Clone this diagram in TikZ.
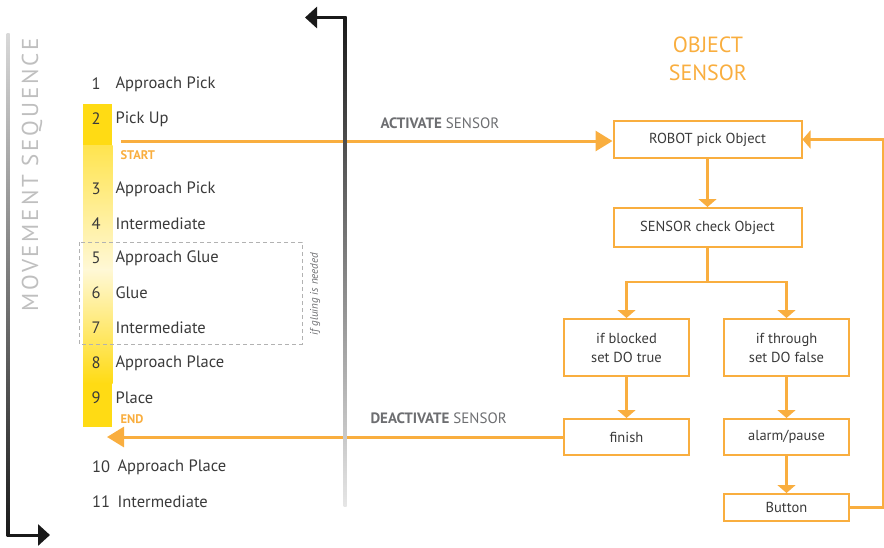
\documentclass[tikz,border=0pt]{standalone}
\usepackage{fontspec}
\setmainfont{PT Sans}
\newfontfamily\spacedfont[LetterSpace=12]{PT Sans}
\usetikzlibrary{arrows.meta}
\definecolor{orng}{HTML}{F9AE3F}
\definecolor{ylw}{HTML}{FFDB14}
\definecolor{ylwpale}{HTML}{FFF8D6}
\definecolor{txt}{HTML}{3A3A3A}
\definecolor{lbl}{HTML}{6D6E71}
\begin{document}
\begin{tikzpicture}[x=1pt,y=-1pt,
  flowbox/.style={draw=orng,line width=2pt,inner sep=0pt,text=txt,align=center,
    font=\fontsize{14.5}{19}\selectfont},
  wide/.style={minimum width=188pt},
  narrow/.style={minimum width=125pt},
  link/.style={draw=orng,line width=2.2pt},
  linkarr/.style={link,-{Triangle[length=8pt,width=18pt]}},
  bigarr/.style={draw=orng,line width=3pt,-{Triangle[length=17pt,width=20pt]}},
  darkarr/.style={line width=3pt,-{Triangle[length=12pt,width=21pt]}},
  stepnum/.style={text=txt,font=\fontsize{16.5}{19}\selectfont},
  steptext/.style={anchor=west,text=txt,font=\fontsize{16.5}{19}\selectfont},
  sensorlabel/.style={anchor=west,text=lbl,font=\fontsize{15}{17}\selectfont},
  marker/.style={anchor=west,text=orng,font=\fontsize{12.5}{14}\selectfont\bfseries}
]
\useasboundingbox (0,0) rectangle (884,547);

% highlighted part of the sequence
\fill[ylw] (83,104) rectangle (112,145.5);
\shade[top color=ylw!75, bottom color=ylwpale] (83,145) rectangle (112.5,270);
\shade[top color=ylwpale, bottom color=ylw] (83,269.5) rectangle (112.5,383.5);
\fill[ylw] (83,383) rectangle (112,427);

% optional gluing steps
\draw[gray!60,line width=1pt,dash pattern=on 4pt off 3pt] (79,242) rectangle (302,344);
\node[rotate=90,text=lbl,font=\fontsize{11}{12}\selectfont\itshape] (gluing) at (315,294) {if gluing is needed};

% movement steps
\foreach \n/\y/\t in {1/84/Approach Pick,2/119/Pick Up,3/189/Approach Pick,4/224/Intermediate,
  5/258/Approach Glue,6/293/Glue,7/328/Intermediate,8/363/Approach Place,9/398/Place}{
  \node[stepnum] (num\n) at (96,\y) {\n};
  \node[steptext] (step\n) at (112,\y) {\t};
}
\node[stepnum] (num10) at (101,467) {10};
\node[steptext] (step10) at (114,467) {Approach Place};
\node[stepnum] (num11) at (101,502) {11};
\node[steptext] (step11) at (114,502) {Intermediate};

\node[marker] (start) at (117,155) {START};
\node[marker] (end) at (117,419) {END};

% sensor flow chart
\node[text=orng,align=center,font=\fontsize{22}{28}\selectfont] (title) at (708,59) {OBJECT\\SENSOR};
\node[flowbox,wide,minimum height=37pt] (robot) at (707.5,139.5) {ROBOT pick Object};
\node[flowbox,wide,minimum height=39pt] (sensor) at (707.5,227.5) {SENSOR check Object};
\node[flowbox,narrow,minimum height=57pt] (blocked) at (626.5,347.5) {if blocked\\set DO true};
\node[flowbox,narrow,minimum height=57pt] (through) at (786.5,347.5) {if through\\set DO false};
\node[flowbox,narrow,minimum height=36pt] (finish) at (626.5,437) {finish};
\node[flowbox,narrow,minimum height=36pt] (alarm) at (786.5,437) {alarm/pause};
\node[flowbox,narrow,minimum height=27pt] (button) at (786.5,507.5) {Button};

\coordinate (split) at (707.5,282);
\draw[linkarr] (robot) -- (sensor);
\draw[link] (sensor) -- (split);
\draw[linkarr] (split) -| (blocked);
\draw[linkarr] (split) -| (through);
\draw[linkarr] (blocked) -- (finish);
\draw[linkarr] (through) -- (alarm);
\draw[linkarr] (alarm) -- (button);
\draw[linkarr] (button.east) -- ++(33,0) |- (robot.east);

% sensor activation
\coordinate (actstart) at (121,141);
\coordinate (deactend) at (107,437);
\draw[bigarr] (actstart) -- (actstart -| robot.west);
\draw[bigarr] (finish.west) -- (deactend);
\node[sensorlabel] (act) at (377,123) {\textbf{ACTIVATE} SENSOR};
\node[sensorlabel] (deact) at (367,418) {\textbf{DEACTIVATE} SENSOR};

% loop back arrow
\shade[top color=black!90, bottom color=gray!20] (343.5,16) rectangle (346.5,506);
\coordinate (looptop) at (345,17.5);
\coordinate (loopend) at (305,17.5);
\draw[darkarr,black!90] (looptop) -- (loopend);

% sequence direction
\shade[top color=gray!30, bottom color=black!90] (6.5,33) rectangle (9.5,536.5);
\coordinate (seqcorner) at (8,535);
\coordinate (seqend) at (50,535);
\draw[darkarr,black!90] (seqcorner) -- (seqend);
\node[rotate=90,text=gray!50,font=\fontsize{23}{26}\spacedfont] (seq) at (32,175) {MOVEMENT SEQUENCE};
\end{tikzpicture}
\end{document}
